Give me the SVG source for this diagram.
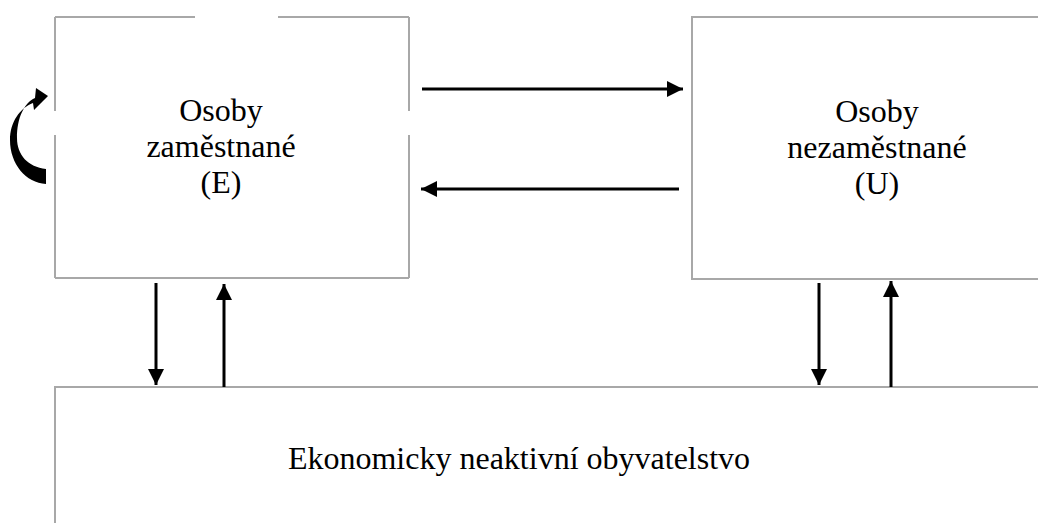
<svg xmlns="http://www.w3.org/2000/svg" width="1038" height="523" viewBox="0 0 1038 523">
<style>
.box{fill:none;stroke:#a8a8a8;stroke-width:2}
.lbl{font-size:32px;fill:#000;text-anchor:middle}
.arr{stroke:#000;stroke-width:3;fill:none;marker-end:url(#ah)}
</style>
<defs>
<marker id="ah" markerUnits="userSpaceOnUse" markerWidth="16" markerHeight="16" refX="16" refY="8" orient="auto">
<path d="M0,0 L16,8 L0,16 Z" fill="#000"/>
</marker>
</defs>
<rect width="1038" height="523" fill="#fff"/>
<g font-family="Tinos, 'Liberation Serif', 'DejaVu Serif', 'Noto Serif', serif">
<g id="node-E">
<path class="box" d="M55,17 H195 M278,17 H409 M55,17 V111 M55,135 V278 M409,17 V111 M409,135 V278 M55,278 H409"/>
<text class="lbl" x="221" y="121">Osoby</text>
<text class="lbl" x="221" y="157">zaměstnané</text>
<text class="lbl" x="221" y="193">(E)</text>
</g>
<g id="node-U">
<path class="box" d="M1038,17 H692 V279 H1038"/>
<text class="lbl" x="877" y="122">Osoby</text>
<text class="lbl" x="877" y="158">nezaměstnané</text>
<text class="lbl" x="877" y="194">(U)</text>
</g>
<g id="node-N">
<path class="box" d="M1038,387 H55 V523"/>
<text class="lbl" x="519" y="469">Ekonomicky neaktivní obyvatelstvo</text>
</g>
</g>
<g id="connectors">
<line class="arr" x1="422" y1="89" x2="683" y2="89"/>
<line class="arr" x1="679" y1="189" x2="421" y2="189"/>
<line class="arr" x1="156" y1="283" x2="156" y2="385"/>
<line class="arr" x1="224" y1="387" x2="224" y2="284"/>
<line class="arr" x1="819" y1="283" x2="819" y2="385"/>
<line class="arr" x1="891" y1="387" x2="891" y2="281"/>
<path d="M46,169 L46,184 C26,183 10,164 10,140 C10,122 20,108 33,103 L34,110 L48,96 L36,88 L35,98 C24,103 17,118 17,138 C17,155 28,167 46,169 Z" fill="#000"/>
</g>
</svg>
